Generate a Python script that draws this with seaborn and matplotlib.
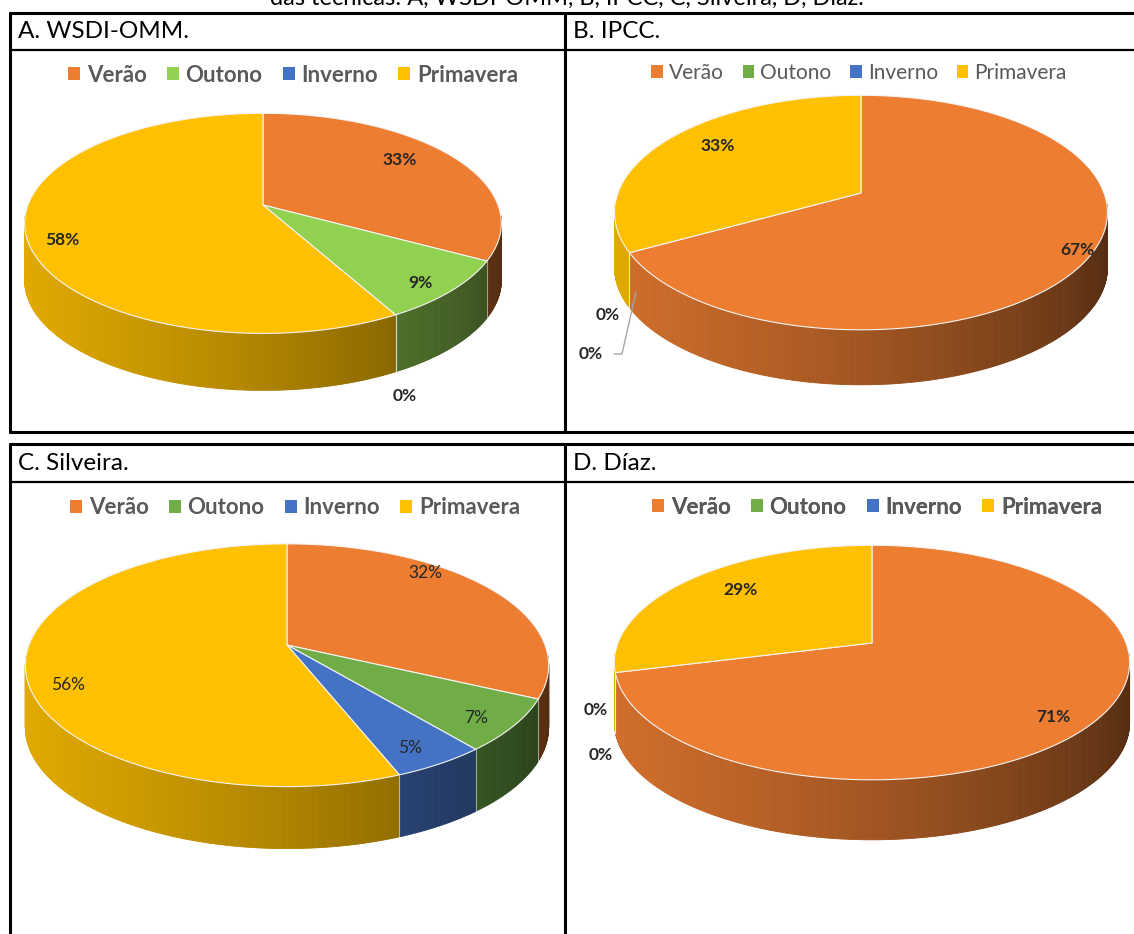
import numpy as np
import matplotlib
matplotlib.use("Agg")
import matplotlib.pyplot as plt
from matplotlib.patches import Patch
import matplotlib.colors as mcolors
import seaborn as sns

# ---------------- data ----------------
seasons = ["Verão", "Outono", "Inverno", "Primavera"]
panel_titles = ["A. WSDI-OMM.", "B. IPCC.", "C. Silveira.", "D. Díaz."]
values_A = [33, 9, 0, 58]
values_B = [67, 0, 0, 33]
values_C = [32, 7, 5, 56]
values_D = [71, 0, 0, 29]
caption = "das técnicas: A, WSDI-OMM, B, IPCC, C, Silveira, D, Díaz."

sns.set_theme(style="white")
plt.rcParams['font.family'] = ['Lato', 'DejaVu Sans']

orange, blue, yellow = "#ED7D31", "#4472C4", "#FFC000"
green_light, green = "#92D050", "#70AD47"
palettes = [
    sns.color_palette([orange, green_light, blue, yellow]),
    sns.color_palette([orange, green, blue, yellow]),
    sns.color_palette([orange, green, blue, yellow]),
    sns.color_palette([orange, green, blue, yellow]),
]

K = 0.1667  # perspective factor

# layout (pixel coordinates)
panels = [
    dict(vals=values_A, cx=263, cy=205, A=235, B=107, depth=57,
         leg=(293, 75), leg_size=16, bold_leg=True, bold_lab=True,
         labels=[(400, 160), (420, 283), (405, 396), (62, 240)]),
    dict(vals=values_B, cx=861, cy=193, A=243, B=114, depth=55,
         leg=(859, 73), leg_size=15, bold_leg=False, bold_lab=True,
         labels=[(1077, 250), (608, 315), (591, 354), (718, 146)]),
    dict(vals=values_C, cx=287, cy=645, A=258, B=118, depth=62,
         leg=(295, 508), leg_size=16, bold_leg=True, bold_lab=False,
         labels=[(425, 573), (476, 718), (410, 748), (68, 685)]),
    dict(vals=values_D, cx=872, cy=643, A=254, B=114, depth=60,
         leg=(877, 507), leg_size=16, bold_leg=True, bold_lab=True,
         labels=[(1053, 717), (596, 710), (601, 755), (740, 590)]),
]

fig = plt.figure(figsize=(11.34, 9.34), dpi=100)
ax = fig.add_axes([0, 0, 1, 1])
ax.set_xlim(0, 1134)
ax.set_ylim(934, 0)
ax.axis("off")


def proj(p, u, v):
    s = 1 - K * v
    return p["cx"] + u * p["A"] / s, p["cy"] + v * p["B"] / s


def shade(color, u):
    f = 0.68 - 0.27 * u - 0.06 * u * u
    r, g, b = mcolors.to_rgb(color)
    return (r * f, g * f, b * f)


def draw_pie(p, pal):
    vals = np.array(p["vals"], dtype=float)
    frac = vals / vals.sum()
    edges = np.concatenate([[0], np.cumsum(frac)]) * 360.0
    # side walls
    for i, (a0, a1) in enumerate(zip(edges[:-1], edges[1:])):
        if a1 - a0 <= 0:
            continue
        t = np.radians(np.linspace(a0, a1, max(int((a1 - a0) * 2), 3)))
        for j in range(len(t) - 1):
            um = np.sin((t[j] + t[j + 1]) / 2)
            vm = -np.cos((t[j] + t[j + 1]) / 2)
            if vm < K - 0.08:
                continue
            x0, y0 = proj(p, np.sin(t[j]), -np.cos(t[j]))
            x1, y1 = proj(p, np.sin(t[j + 1]), -np.cos(t[j + 1]))
            c = shade(pal[i], um)
            ax.fill([x0, x1, x1, x0], [y0, y1, y1 + p["depth"], y0 + p["depth"]],
                    color=c, lw=0.6, ec=c, zorder=2)
    # wall boundaries
    for i, a in enumerate(edges[1:-1]):
        if frac[i] == 0 and frac[i + 1] == 0:
            continue
        tt = np.radians(a)
        v = -np.cos(tt)
        if v > K:
            x, y = proj(p, np.sin(tt), v)
            ax.plot([x, x], [y, y + p["depth"]], color="white", alpha=0.5, lw=0.8, zorder=3)
    # top faces
    for i, (a0, a1) in enumerate(zip(edges[:-1], edges[1:])):
        if a1 - a0 <= 0:
            continue
        t = np.radians(np.linspace(a0, a1, max(int((a1 - a0) * 2), 3)))
        xs, ys = proj(p, np.sin(t), -np.cos(t))
        xs = np.concatenate([[p["cx"]], xs])
        ys = np.concatenate([[p["cy"]], ys])
        ax.fill(xs, ys, color=pal[i], ec="#f3f3f3", lw=0.8, zorder=4)
    # data labels
    for i, (lx, ly) in enumerate(p["labels"]):
        ax.text(lx, ly, f"{int(p['vals'][i])}%", ha="center", va="center",
                fontsize=12.5, color="#262626",
                fontweight="bold" if p["bold_lab"] else "normal", zorder=6)


for p, pal in zip(panels, palettes):
    draw_pie(p, pal)
    handles = [Patch(facecolor=pal[i], edgecolor="none") for i in range(4)]
    leg = ax.legend(handles, seasons, ncol=4, loc="center",
                    bbox_to_anchor=(p["leg"][0], p["leg"][1]),
                    bbox_transform=ax.transData, frameon=False,
                    handlelength=0.55, handleheight=0.55, handletextpad=0.3,
                    columnspacing=0.9, borderpad=0,
                    prop=dict(family=["Lato", "DejaVu Sans"], size=p["leg_size"],
                              weight="bold" if p["bold_leg"] else "normal"))
    for txt in leg.get_texts():
        txt.set_color("#595959")
    ax.add_artist(leg)

# B leader line for 0% label
ax.plot([614, 622, 636], [354, 354, 292], color="#a6a6a6", lw=1, zorder=5)

# table titles
title_pos = [(18, 32), (573, 32), (18, 464), (573, 464)]
for (tx, ty), t in zip(title_pos, panel_titles):
    ax.text(tx, ty, t, ha="left", va="center", fontsize=17.5, color="black")

# caption (clipped at top, as in the source document)
ax.text(567, -2, caption, ha="center", va="center", fontsize=17, color="black")

# table lines
lw_thick = 2.2
lw_thin = 1.6
ax.plot([10, 1134], [13, 13], color="black", lw=lw_thick, zorder=7)
ax.plot([10, 1134], [50, 50], color="black", lw=lw_thin, zorder=7)
ax.plot([10, 1134], [432, 432], color="black", lw=lw_thick, zorder=7)
ax.plot([10, 1134], [444, 444], color="black", lw=lw_thick, zorder=7)
ax.plot([10, 1134], [482, 482], color="black", lw=lw_thin, zorder=7)
for x in (10, 565):
    ax.plot([x, x], [13, 432], color="black", lw=lw_thick, zorder=7)
    ax.plot([x, x], [444, 934], color="black", lw=lw_thick, zorder=7)

fig.savefig("out.png", dpi=100)
